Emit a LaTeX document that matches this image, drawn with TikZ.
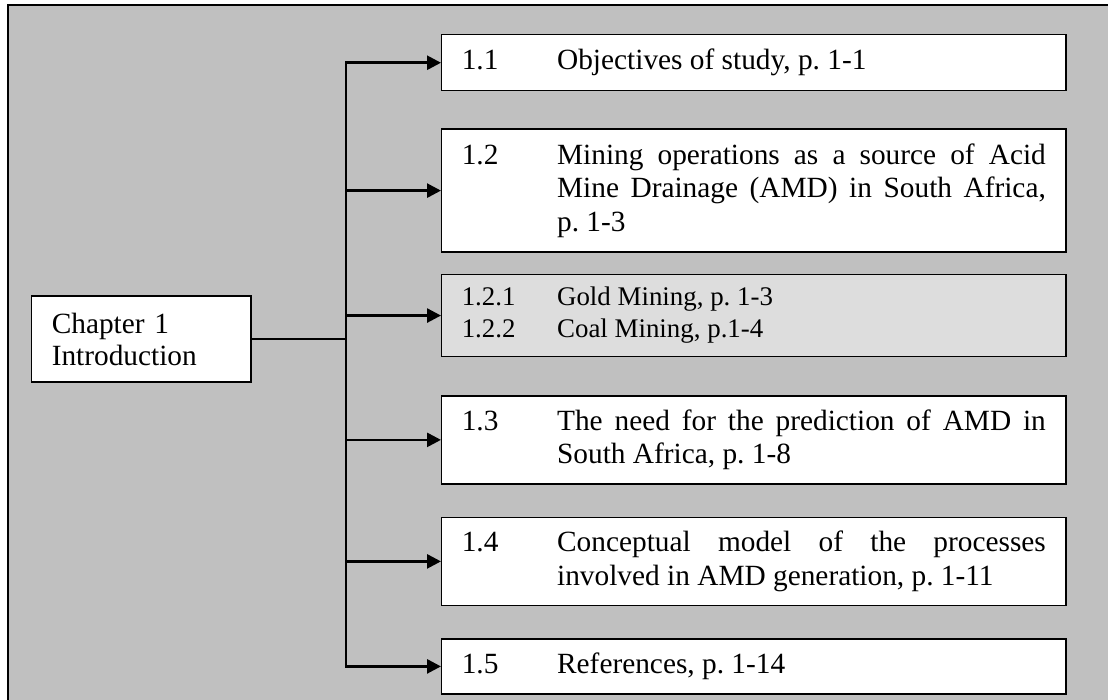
\documentclass[tikz,border=0pt]{standalone}
\usepackage{fontspec}
\setmainfont{Liberation Serif}
\usepackage{tikz}
\usetikzlibrary{arrows.meta,positioning}
\definecolor{panelgray}{RGB}{192,192,192}
\definecolor{subgray}{RGB}{221,221,221}
\newcommand{\secline}[2]{\frenchspacing\hyphenpenalty=10000\exhyphenpenalty=10000\spaceskip=\fontdimen2\font plus 20pt\relax\rightskip=0pt\relax\parfillskip=0pt plus 1fil\relax\leftskip=39pt\parindent=0pt\noindent\hskip-39pt\makebox[39pt][l]{#1}#2\par}

\begin{document}
\begin{tikzpicture}[
x=0.409pt, y=-0.409pt,
secbox/.style={draw, line width=0.6pt, fill=white, inner xsep=8.2pt, inner ysep=0pt, text width=238.9pt, font=\fontsize{12}{13.6}\selectfont},
subbox/.style={secbox, fill=subgray, font=\fontsize{11}{13.1}\selectfont},
chapbox/.style={draw, line width=0.6pt, fill=white, inner xsep=8.2pt, inner ysep=0pt, text width=73.2pt, minimum height=35.2pt, align=left, font=\fontsize{12}{13.1}\selectfont},
link/.style={line width=1.1pt},
arrow/.style={link, -{Triangle[length=5.7pt, width=5.7pt]}}
]
\useasboundingbox (0,0) rectangle (1108,700);
\clip (0,0) rectangle (1108,700);
\fill[panelgray] (8,5) rectangle (1120,712);
\draw[line width=0.8pt] (8,712) -- (8,5) -- (1120,5);

\node[secbox, minimum height=22.9pt, anchor=north west] (s11) at (441,34) {\secline{1.1}{Objectives of study, p. 1-1}};
\node[secbox, minimum height=50.3pt, below=15.1pt of s11] (s12) {\secline{1.2}{Mining operations as a source of Acid Mine Drainage (AMD) in South Africa, p. 1-3}};
\node[subbox, minimum height=33.5pt, below=8.6pt of s12] (s121) {\secline{1.2.1}{Gold Mining, p. 1-3}\secline{1.2.2}{Coal Mining, p.1-4}};
\node[secbox, minimum height=36pt, below=15.5pt of s121] (s13) {\secline{1.3}{The need for the prediction of AMD in South Africa, p. 1-8}};
\node[secbox, minimum height=36pt, below=13.1pt of s13] (s14) {\secline{1.4}{Conceptual model of the processes involved in AMD generation, p. 1-11}};
\node[secbox, minimum height=22.5pt, below=13.1pt of s14] (s15) {\secline{1.5}{References, p. 1-14}};
\node[chapbox, anchor=west] (ch) at (31,339) {Chapter 1\\Introduction};
\coordinate (trunk) at (346,339);

\draw[link] (ch) -- (trunk);
\draw[arrow] (trunk) |- (s11);
\draw[arrow] (trunk) |- (s15);
\foreach \n in {s12,s121,s13,s14}
  \draw[arrow] (trunk |- \n) -- (\n);
\end{tikzpicture}
\end{document}
